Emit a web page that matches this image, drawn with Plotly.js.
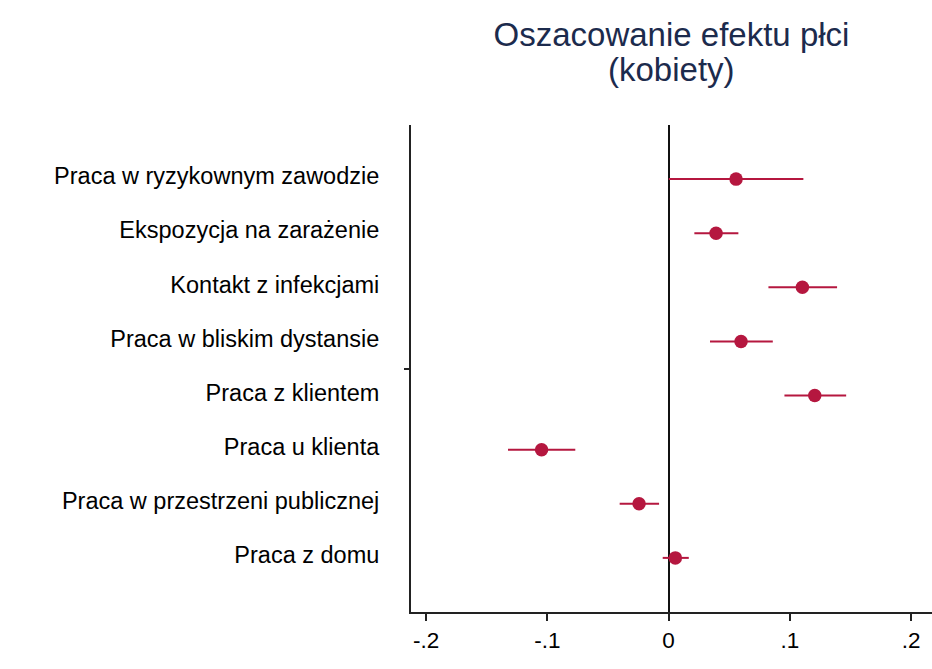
<!DOCTYPE html>
<html>
<head>
<meta charset="utf-8">
<script src="https://cdn.plot.ly/plotly-3.0.1.min.js"></script>
<style>html,body{margin:0;padding:0;background:#fff;}#chart{width:932px;height:669px;}</style>
</head>
<body>
<div id="chart"></div>
<script>
const categories = [
  "Praca w ryzykownym zawodzie",
  "Ekspozycja na zarażenie",
  "Kontakt z infekcjami",
  "Praca w bliskim dystansie",
  "Praca z klientem",
  "Praca u klienta",
  "Praca w przestrzeni publicznej",
  "Praca z domu"
];
const estimates = [0.0557, 0.0392, 0.1104, 0.0598, 0.1206, -0.1047, -0.0243, 0.0056];
const ciLow     = [0.0002, 0.0213, 0.0824, 0.0342, 0.0956, -0.1324, -0.0403, -0.0048];
const ciHigh    = [0.1112, 0.0576, 0.1390, 0.0860, 0.1465, -0.0769, -0.0078, 0.0167];
const xTickVals = [-0.2, -0.1, 0, 0.1, 0.2];
const xTickText = ["-.2", "-.1", "0", ".1", ".2"];

const pos = categories.map((c, i) => i + 1);
const red = "#b5173f";
const font = "Arial, 'Liberation Sans', sans-serif";

const trace = {
  type: "scatter",
  mode: "markers",
  x: estimates,
  y: pos,
  marker: {color: red, size: 13.5},
  error_x: {
    type: "data",
    symmetric: false,
    array: estimates.map((e, i) => ciHigh[i] - e),
    arrayminus: estimates.map((e, i) => e - ciLow[i]),
    color: red,
    thickness: 2,
    width: 0
  },
  hoverinfo: "skip",
  showlegend: false
};

const ghost = {
  type: "scatter", mode: "markers", x: [0], y: [4.5], yaxis: "y2",
  marker: {opacity: 0}, hoverinfo: "skip", showlegend: false
};

const layout = {
  width: 932, height: 669,
  paper_bgcolor: "#fff", plot_bgcolor: "#fff",
  margin: {l: 411, r: 0, t: 125, b: 57, pad: 0},
  font: {family: font, color: "#000"},
  title: {
    text: "Oszacowanie efektu płci",
    font: {family: font, size: 33, color: "#1c2b4d"},
    xref: "paper", x: 0.5, xanchor: "center",
    yref: "container", y: 1 - 34/669, yanchor: "middle"
  },
  annotations: [{
    text: "(kobiety)", showarrow: false,
    xref: "paper", yref: "paper", x: 0.5, y: 1 + (125 - 69) / 487,
    xanchor: "center", yanchor: "middle",
    font: {family: font, size: 33, color: "#1c2b4d"}
  }],
  xaxis: {
    range: [-0.2124, 0.2173],
    tickvals: xTickVals, ticktext: xTickText,
    ticks: "outside", ticklen: 7, tickwidth: 2, tickcolor: "#222",
    tickfont: {size: 22.5, color: "#000"},
    showline: true, linecolor: "#222", linewidth: 2,
    showgrid: false,
    zeroline: true, zerolinecolor: "#111", zerolinewidth: 2,
    ticklabelstandoff: 0
  },
  yaxis: {
    range: [9, 0],
    tickvals: pos, ticktext: categories,
    ticks: "", showgrid: false, zeroline: false,
    showline: true, linecolor: "#222", linewidth: 2,
    tickfont: {size: 23.5, color: "#000"},
    ticklabelstandoff: 25,
    ticklabelshift: 3
  },
  yaxis2: {
    overlaying: "y", side: "left", range: [9, 0],
    tickvals: [4.5], ticktext: [""],
    ticks: "outside", ticklen: 6, tickwidth: 2, tickcolor: "#222",
    showgrid: false, zeroline: false, showline: false
  }
};

Plotly.newPlot("chart", [trace, ghost], layout, {displayModeBar: false, staticPlot: true});
</script>
</body>
</html>
